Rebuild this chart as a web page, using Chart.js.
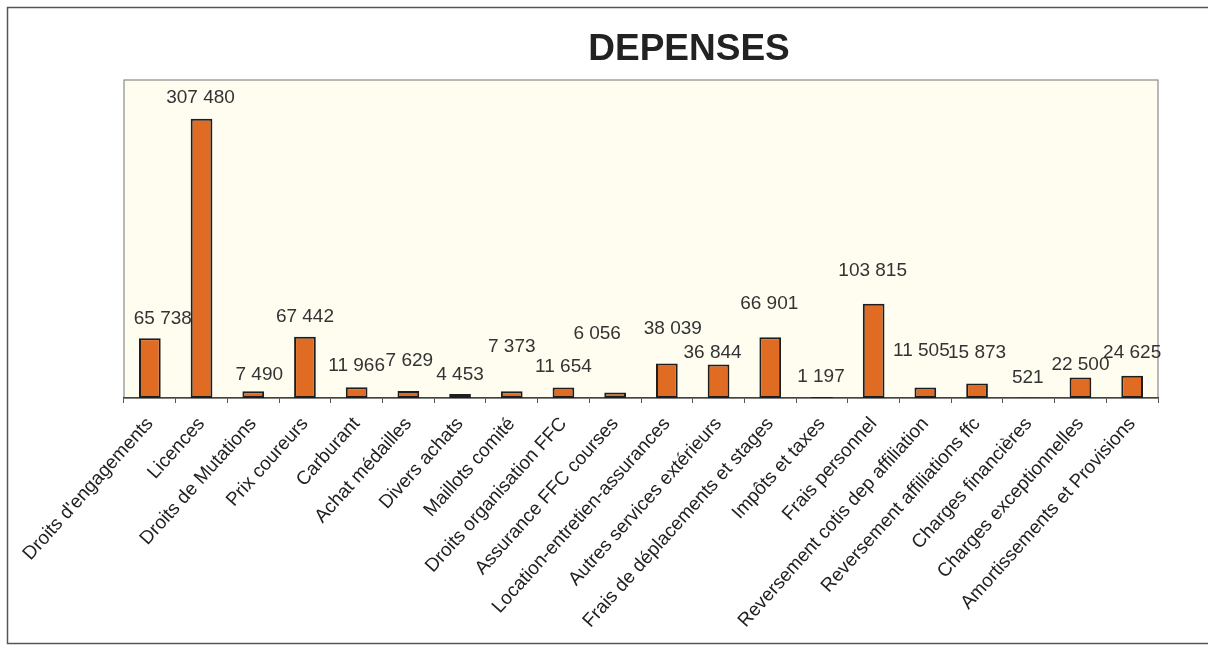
<!DOCTYPE html>
<html>
<head>
<meta charset="utf-8">
<script src="https://cdn.jsdelivr.net/npm/chart.js@4"></script>
<style>
  html, body { margin: 0; padding: 0; background: #fff; }
  #wrap { width: 1208px; height: 646px; }
</style>
</head>
<body>
<div id="wrap"><canvas id="graphDepenses"></canvas></div>
<script>
const titre = 'DEPENSES';

const categories = [
    "Droits d'engagements", 'Licences', 'Droits de Mutations', 'Prix coureurs',
    'Carburant', 'Achat médailles', 'Divers achats', 'Maillots comité',
    'Droits organisation FFC', 'Assurance FFC courses', 'Location-entretien-assurances',
    'Autres services extérieurs', 'Frais de déplacements et stages', 'Impôts et taxes',
    'Frais personnel', 'Reversement cotis dep affiliation', 'Reversement affiliations ffc',
    'Charges financières', 'Charges exceptionnelles', 'Amortissements et Provisions'
];

const depenses = [
    65738, 307480, 7490, 67442, 11966, 7629, 4453, 7373, 11654, 6056,
    38039, 36844, 66901, 1197, 103815, 11505, 15873, 521, 22500, 24625
];

const echelleMax = 350000;

// decalage des etiquettes (px) par rapport au haut de la barre, comme sur l'original
const labelNudge = [
    [13, -20], [-1, -21], [6, -16], [0, -20], [0, -21], [1, -30], [0, -19], [0, -45],
    [0, -21], [-18, -59], [6, -35], [-6, -12], [-1, -33], [-1, -20], [-1, -33],
    [-4, -37], [0, -31], [-1, -20], [0, -13], [0, -23]
];

function formatFr(v) {
    return v.toString().replace(/\B(?=(\d{3})+(?!\d))/g, ' ');
}

const fondEtCadre = {
    id: 'fondEtCadre',
    beforeDraw(chart) {
        const c = chart.ctx;
        const a = chart.chartArea;
        c.save();
        // cadre exterieur
        c.strokeStyle = '#555';
        c.lineWidth = 1.5;
        c.strokeRect(7.5, 7.5, 1220, 636);
        // zone de tracé
        c.fillStyle = '#fffdf0';
        c.fillRect(a.left, a.top, a.right - a.left, a.bottom - a.top);
        c.strokeStyle = '#8a8a8a';
        c.lineWidth = 1.2;
        c.strokeRect(a.left, a.top, a.right - a.left, a.bottom - a.top);
        // titre
        c.fillStyle = '#222';
        c.font = 'bold 37px "Liberation Sans", Arial, sans-serif';
        c.textAlign = 'center';
        c.textBaseline = 'middle';
        c.fillText(titre, 689, 50);
        c.restore();
    },
    afterDatasetsDraw(chart) {
        const c = chart.ctx;
        const meta = chart.getDatasetMeta(0);
        c.save();
        c.fillStyle = '#333';
        c.font = '19px "Liberation Sans", Arial, sans-serif';
        c.textAlign = 'center';
        c.textBaseline = 'middle';
        meta.data.forEach((bar, i) => {
            const n = labelNudge[i] || [0, -20];
            c.fillText(formatFr(depenses[i]), bar.x + n[0], bar.y + n[1]);
        });
        c.restore();
    }
};

const ctx = document.getElementById('graphDepenses').getContext('2d');
new Chart(ctx, {
    type: 'bar',
    data: {
        labels: categories,
        datasets: [{
            label: titre,
            data: depenses,
            backgroundColor: '#e06b22',
            borderColor: '#1e1e1e',
            borderWidth: 2,
            borderSkipped: false,
            barPercentage: 0.42,
            categoryPercentage: 1
        }]
    },
    options: {
        responsive: true,
        maintainAspectRatio: false,
        animation: false,
        layout: { padding: { left: 124, right: 50, top: 80, bottom: 4 } },
        plugins: {
            legend: { display: false },
            title: { display: false },
            tooltip: { enabled: false }
        },
        scales: {
            x: {
                afterFit(scale) { scale.height = 244; },
                grid: {
                    offset: true,
                    drawOnChartArea: false,
                    drawTicks: true,
                    tickLength: 5,
                    color: '#555'
                },
                border: { display: true, color: '#444', width: 1.5 },
                ticks: {
                    autoSkip: false,
                    minRotation: 48,
                    maxRotation: 48,
                    padding: 10,
                    color: '#222',
                    font: { family: '"Liberation Sans", Arial, sans-serif', size: 19 }
                }
            },
            y: {
                display: false,
                min: 0,
                max: echelleMax
            }
        }
    },
    plugins: [fondEtCadre]
});
</script>
</body>
</html>
